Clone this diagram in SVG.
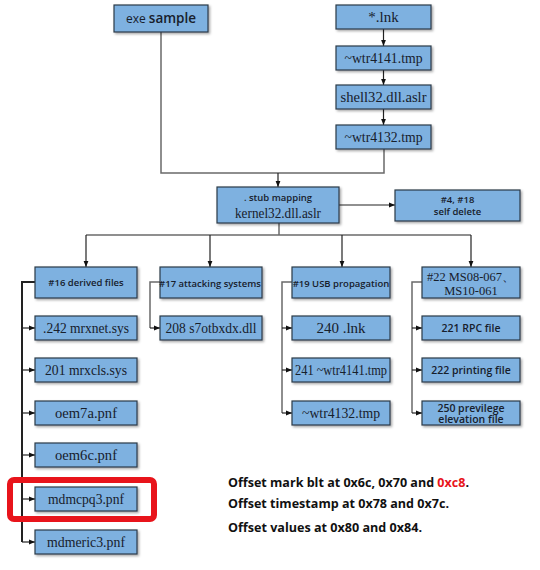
<svg xmlns="http://www.w3.org/2000/svg" width="540" height="570" viewBox="0 0 540 570">
<defs>
<filter id="sh" x="-10%" y="-10%" width="130%" height="140%">
<feDropShadow dx="1.5" dy="1.5" stdDeviation="0.8" flood-color="#000" flood-opacity="0.35"/>
</filter>
<marker id="ah" viewBox="0 0 10 10" refX="10" refY="5" markerWidth="6" markerHeight="6" orient="auto" markerUnits="userSpaceOnUse">
<path d="M0,1 L10,5 L0,9 z" fill="#111"/>
</marker>
</defs>
<style>
.box{fill:#7eb1e0;stroke:#2c3a48;stroke-width:1.2;filter:url(#sh)}
.ser{font-family:"Liberation Serif","Times New Roman",serif;font-size:15px;fill:#17202c;text-anchor:middle}
.san{font-family:"Open Sans","DejaVu Sans",sans-serif;font-weight:600;font-size:9.5px;fill:#17202c;text-anchor:middle}
.sb{font-size:10.5px}
.ln{fill:none;stroke:#6a6a6a;stroke-width:1.5}
.lk{fill:none;stroke:#222;stroke-width:1.2}
.bt{font-family:"Open Sans","DejaVu Sans",sans-serif;font-weight:700;font-size:12px;fill:#111}
</style>
<rect width="540" height="570" fill="#fff"/>
<g id="connectors">
<path class="lk" d="M383.5,29 V46" marker-end="url(#ah)"/>
<path class="lk" d="M383.5,70 V85" marker-end="url(#ah)"/>
<path class="lk" d="M383.5,109 V125" marker-end="url(#ah)"/>
<path class="ln" d="M161,32 V173 H384 V149"/>
<path class="lk" d="M278,173 V187" marker-end="url(#ah)"/>
<path class="lk" d="M339,205 H395" marker-end="url(#ah)"/>
<path class="ln" d="M279,223 V235"/>
<path class="ln" d="M86,235 H471"/>
<path class="lk" d="M86,235 V267" marker-end="url(#ah)"/>
<path class="lk" d="M210,235 V267" marker-end="url(#ah)"/>
<path class="lk" d="M342,235 V267" marker-end="url(#ah)"/>
<path class="lk" d="M471,235 V267" marker-end="url(#ah)"/>
<path d="M35,282 H22 V542" fill="none" stroke="#222" stroke-width="2"/>
<path class="lk" d="M22,328 H35" marker-end="url(#ah)"/>
<path class="lk" d="M22,370 H35" marker-end="url(#ah)"/>
<path class="lk" d="M22,413 H35" marker-end="url(#ah)"/>
<path class="lk" d="M22,455 H35" marker-end="url(#ah)"/>
<path class="lk" d="M22,499 H35" marker-end="url(#ah)"/>
<path class="lk" d="M22,542 H35" marker-end="url(#ah)"/>
<path class="ln" d="M160,282 H150 V328"/>
<path class="lk" d="M150,328 H160" marker-end="url(#ah)"/>
<path class="ln" d="M292,282 H282 V413"/>
<path class="lk" d="M282,328 H292" marker-end="url(#ah)"/>
<path class="lk" d="M282,370 H292" marker-end="url(#ah)"/>
<path class="lk" d="M282,413 H292" marker-end="url(#ah)"/>
<path class="ln" d="M422,282 H412 V413"/>
<path class="lk" d="M412,328 H422" marker-end="url(#ah)"/>
<path class="lk" d="M412,370 H422" marker-end="url(#ah)"/>
<path class="lk" d="M412,413 H422" marker-end="url(#ah)"/>
</g>
<g id="exe"><rect class="box" x="114" y="5" width="94" height="27"/><text x="161" y="23" class="san" style="font-weight:400;font-size:12px"><tspan>exe </tspan><tspan style="font-size:13.5px;font-weight:600">sample</tspan></text></g>
<g id="lnk"><rect class="box" x="336" y="5" width="95" height="24"/><text x="383.5" y="22" class="ser">*.lnk</text></g>
<g id="wtr4141"><rect class="box" x="336" y="46" width="95" height="24"/><text x="383.5" y="63" class="ser" textLength="78" lengthAdjust="spacingAndGlyphs">~wtr4141.tmp</text></g>
<g id="shell32"><rect class="box" x="336" y="85" width="95" height="24"/><text x="383.5" y="102" class="ser" textLength="86" lengthAdjust="spacingAndGlyphs">shell32.dll.aslr</text></g>
<g id="wtr4132"><rect class="box" x="336" y="125" width="95" height="24"/><text x="383.5" y="142" class="ser" textLength="78" lengthAdjust="spacingAndGlyphs">~wtr4132.tmp</text></g>
<g id="kernel"><rect class="box" x="217" y="187" width="122" height="36"/><text x="278" y="201" class="san">. stub mapping</text><text x="278" y="218" class="ser" textLength="86" lengthAdjust="spacingAndGlyphs">kernel32.dll.aslr</text></g>
<g id="selfdelete"><rect class="box" x="395" y="190" width="125" height="31"/><text x="457.5" y="203" class="san">#4, #18</text><text x="457.5" y="215" class="san">self delete</text></g>
<g id="n16"><rect class="box" x="35" y="267" width="102" height="31"/><text x="86" y="286" class="san">#16 derived files</text></g>
<g id="n17"><rect class="box" x="160" y="267" width="102" height="31"/><text x="210" y="287" class="san">#17 attacking systems</text></g>
<g id="n19"><rect class="box" x="292" y="267" width="98" height="31"/><text x="341" y="287" class="san">#19 USB propagation</text></g>
<g id="n22"><rect class="box" x="422" y="267" width="98" height="31"/><text x="471" y="281" class="ser" style="font-size:12.5px" textLength="88" lengthAdjust="spacingAndGlyphs">#22 MS08-067、</text><text x="471" y="295" class="ser" style="font-size:12.5px">MS10-061</text></g>
<g id="mrxnet"><rect class="box" x="35" y="316" width="102" height="24"/><text x="86" y="333" class="ser" textLength="86" lengthAdjust="spacingAndGlyphs">.242 mrxnet.sys</text></g>
<g id="mrxcls"><rect class="box" x="35" y="358" width="102" height="24"/><text x="86" y="375" class="ser" textLength="82" lengthAdjust="spacingAndGlyphs">201 mrxcls.sys</text></g>
<g id="oem7a"><rect class="box" x="35" y="401" width="102" height="24"/><text x="86" y="418" class="ser" textLength="62" lengthAdjust="spacingAndGlyphs">oem7a.pnf</text></g>
<g id="oem6c"><rect class="box" x="35" y="443" width="102" height="24"/><text x="86" y="460" class="ser" textLength="62" lengthAdjust="spacingAndGlyphs">oem6c.pnf</text></g>
<g id="mdmcpq3"><rect class="box" x="35" y="487" width="102" height="24"/><text x="86" y="504" class="ser" textLength="76" lengthAdjust="spacingAndGlyphs">mdmcpq3.pnf</text></g>
<g id="mdmeric3"><rect class="box" x="35" y="530" width="102" height="24"/><text x="86" y="547" class="ser" textLength="78" lengthAdjust="spacingAndGlyphs">mdmeric3.pnf</text></g>
<g id="s7otbxdx"><rect class="box" x="160" y="316" width="102" height="24"/><text x="211" y="333" class="ser" textLength="91" lengthAdjust="spacingAndGlyphs">208 s7otbxdx.dll</text></g>
<g id="lnk240"><rect class="box" x="292" y="316" width="98" height="24"/><text x="341" y="333" class="ser">240 .lnk</text></g>
<g id="wtr241"><rect class="box" x="292" y="358" width="98" height="24"/><text x="341" y="375" class="ser" textLength="92" lengthAdjust="spacingAndGlyphs">241 ~wtr4141.tmp</text></g>
<g id="wtr4132b"><rect class="box" x="292" y="401" width="98" height="24"/><text x="341" y="418" class="ser" textLength="78" lengthAdjust="spacingAndGlyphs">~wtr4132.tmp</text></g>
<g id="rpc"><rect class="box" x="422" y="316" width="98" height="24"/><text x="471" y="332" class="san sb">221 RPC file</text></g>
<g id="printing"><rect class="box" x="422" y="358" width="98" height="24"/><text x="471" y="374" class="san sb">222 printing file</text></g>
<g id="previlege"><rect class="box" x="422" y="401" width="98" height="24"/><text x="471" y="411.5" class="san sb">250 previlege</text><text x="471" y="423" class="san sb">elevation file</text></g>
<rect x="10" y="480" width="144" height="39" rx="4" fill="none" stroke="#e8141b" stroke-width="6"/>
<text class="bt" x="228" y="487" textLength="241" lengthAdjust="spacingAndGlyphs">Offset mark blt at 0x6c, 0x70 and <tspan fill="#e8141b">0xc8</tspan>.</text>
<text class="bt" x="228" y="508" textLength="221" lengthAdjust="spacingAndGlyphs">Offset timestamp at 0x78 and 0x7c.</text>
<text class="bt" x="228" y="532" textLength="194" lengthAdjust="spacingAndGlyphs">Offset values at 0x80 and 0x84.</text>
</svg>
